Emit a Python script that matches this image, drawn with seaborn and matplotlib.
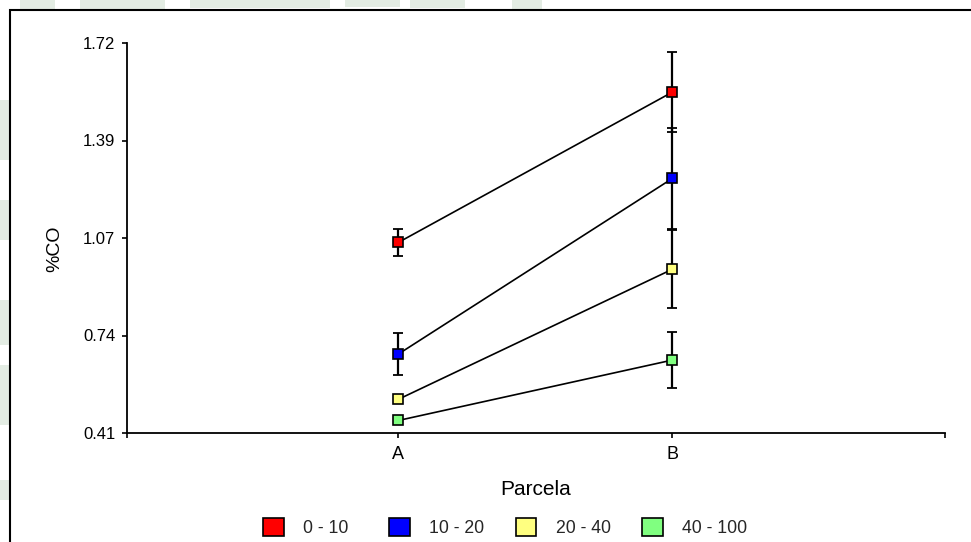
import numpy as np
import pandas as pd
import matplotlib
matplotlib.use("Agg")
import matplotlib.pyplot as plt
from matplotlib.patches import Patch, Rectangle
import seaborn as sns

# ---- data ----
parcelas = ["A", "B"]
series_names = ["0 - 10", "10 - 20", "20 - 40", "40 - 100"]
means_0_10 = [1.05, 1.555]
means_10_20 = [0.675, 1.265]
means_20_40 = [0.523, 0.960]
means_40_100 = [0.452, 0.655]
err_0_10 = [0.045, 0.135]
err_10_20 = [0.070, 0.170]
err_20_40 = [0.006, 0.131]
err_40_100 = [0.006, 0.095]
y_ticks = [0.41, 0.7375, 1.065, 1.3925, 1.72]
y_tick_labels = ["0.41", "0.74", "1.07", "1.39", "1.72"]

colors = ["#ff0000", "#0000ff", "#ffff80", "#80ff80"]

all_means = [means_0_10, means_10_20, means_20_40, means_40_100]
all_errs = [err_0_10, err_10_20, err_20_40, err_40_100]

rows = []
for name, m, e in zip(series_names, all_means, all_errs):
    for p, mv, ev in zip(parcelas, m, e):
        rows.append({"Parcela": p, "CO": mv, "err": ev, "Prof": name})
df = pd.DataFrame(rows)

sns.set_theme(style="white")
plt.rcParams["font.family"] = ["Liberation Sans", "DejaVu Sans"]

W, H = 971, 542
fig = plt.figure(figsize=(W / 100, H / 100), dpi=100)
fig.patch.set_facecolor("white")

# faint background shapes peeking around the frame
bg = "#e3ece3"
for (x0, y0, w, h) in [(20, 0, 35, 9), (80, 0, 85, 9), (190, 0, 140, 8),
                       (345, 0, 55, 7), (410, 0, 55, 8), (512, 0, 30, 9),
                       (0, 100, 9, 60), (0, 200, 9, 40), (0, 300, 9, 45),
                       (0, 365, 9, 60), (0, 480, 9, 20)]:
    fig.patches.append(Rectangle((x0 / W, 1 - (y0 + h) / H), w / W, h / H,
                                 transform=fig.transFigure, facecolor=bg,
                                 edgecolor="none", zorder=-1))
# outer frame (partially cropped like the reference)
fig.patches.append(Rectangle((10 / W, -0.1), 1.2, 1 - 10 / H + 0.1,
                             transform=fig.transFigure, fill=False,
                             edgecolor="black", linewidth=1.5, zorder=0))

ax = fig.add_axes([127 / W, 1 - 433 / H, (945 - 127) / W, (433 - 43) / H])
ax.set_facecolor("none")
ax.set_zorder(2)

xpos = {p: i for i, p in enumerate(parcelas)}
for name, m, e in zip(series_names, all_means, all_errs):
    ax.errorbar([xpos[p] for p in parcelas], m, yerr=e, fmt="none",
                ecolor="black", elinewidth=1.6, capsize=3.8, capthick=1.3,
                zorder=2)

sns.lineplot(data=df, x="Parcela", y="CO", hue="Prof", hue_order=series_names,
             palette=["black"] * 4, marker="s", markersize=7.5,
             markeredgecolor="black", markeredgewidth=1.2,
             linewidth=1.2, legend=False, ax=ax, zorder=3)
for line, c in zip(ax.get_lines()[-4:], colors):
    line.set_markerfacecolor(c)

ax.set_xlim(-0.99, 1.995)
ax.set_ylim(0.41, 1.72)
ax.set_xticks([-0.99, 0, 1, 1.995])
ax.set_xticklabels(["", "A", "B", ""])
ax.set_yticks(y_ticks)
ax.set_yticklabels(y_tick_labels)

for s in ["top", "right"]:
    ax.spines[s].set_visible(False)
for s in ["left", "bottom"]:
    ax.spines[s].set_color("black")
    ax.spines[s].set_linewidth(1.3)

ax.tick_params(axis="both", which="major", direction="out", length=3.5,
               width=1.2, color="black", labelcolor="black",
               bottom=True, left=True)
ax.tick_params(axis="y", labelsize=12, pad=5)
ax.tick_params(axis="x", labelsize=13, pad=6)

ax.set_xlabel("Parcela", fontsize=15, color="black", labelpad=12)
ax.set_ylabel("%CO", fontsize=14, color="black")
ax.yaxis.set_label_coords(-0.078, 0.472)

# legend: four evenly spaced entries
for i, (c, lab) in enumerate(zip(colors, series_names)):
    h = Patch(facecolor=c, edgecolor="black", linewidth=1.2)
    fig.legend([h], [lab], loc="center left",
               bbox_to_anchor=((262.7 + 126.4 * i) / W, 1 - 527.8 / H),
               frameon=False, fontsize=12.7, handlelength=1.19,
               handleheight=1.19, handletextpad=1.08,
               borderpad=0, borderaxespad=0)

fig.savefig("out.png", dpi=100, facecolor="white")
